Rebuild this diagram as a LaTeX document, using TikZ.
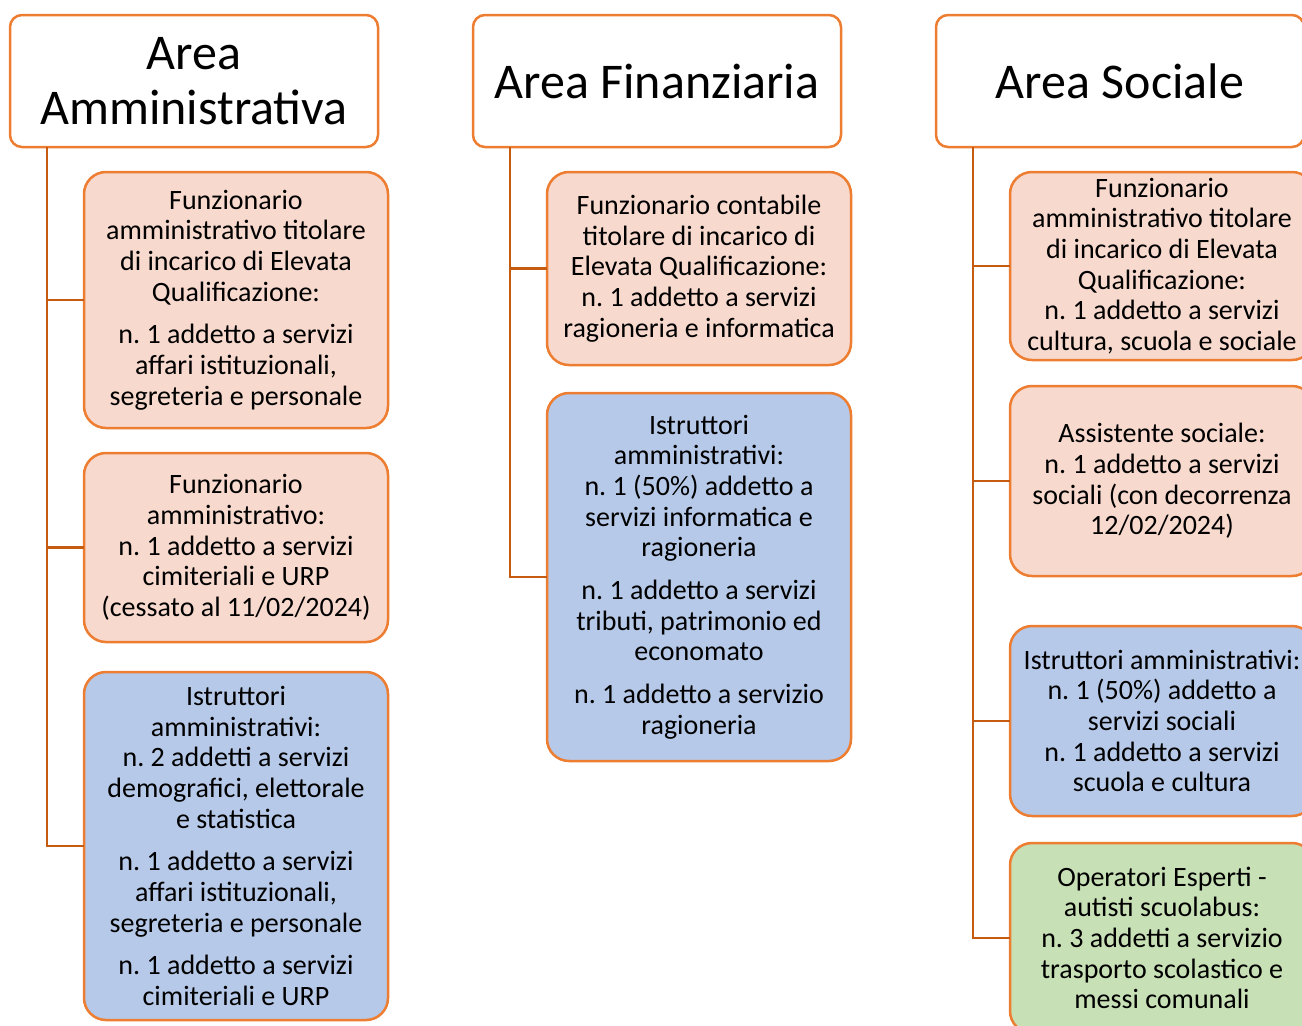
\documentclass[tikz,border=0pt]{standalone}
\usepackage{fontspec}
\setmainfont{Carlito}
\frenchspacing
\usetikzlibrary{positioning}
\definecolor{my_orange}{RGB}{237, 125, 49}
\definecolor{my_brown}{RGB}{197, 90, 17}
\definecolor{my_pink}{RGB}{248, 217, 206}
\definecolor{my_blue}{RGB}{182, 201, 232}
\definecolor{my_green}{RGB}{200, 224, 181}
\tikzset {
  area/.style = {draw=my_orange, line width=1.25pt, fill=white, rounded corners=6pt, rectangle, minimum width=184pt, minimum height=66pt, align=center, inner sep=1pt, outer sep=0pt, font=\fontsize{25}{27.5}\selectfont},
  box/.style = {draw=my_orange, line width=1.25pt, rounded corners=11pt, rectangle, minimum width=152pt, align=center, inner sep=1pt, outer sep=0pt, font=\fontsize{14}{15.35}\selectfont},
  line/.style = {draw=my_brown, line width=1.25pt}
}

\begin{document}
\begin{tikzpicture}[x=0.5pt, y=-0.5pt]
    \useasboundingbox (0,0) rectangle (1302,1025);

    \node[area] (amm) at (194,81) {Area\\Amministrativa};
    \node[area, right=47.5pt of amm] (fin) {Area Finanziaria};
    \node[area, right=47.5pt of fin] (soc) {Area Sociale};

    \node[box, fill=my_pink, minimum height=128pt, below=12.5pt of amm, xshift=21pt] (a1) {Funzionario\\amministrativo titolare\\di incarico di Elevata\\Qualificazione:\\[6pt]n. 1 addetto a servizi\\affari istituzionali,\\segreteria e personale};
    \node[box, fill=my_pink, minimum height=94.5pt, below=12.5pt of a1] (a2) {Funzionario\\amministrativo:\\n. 1 addetto a servizi\\cimiteriali e URP\\(cessato al 11/02/2024)};
    \node[box, fill=my_blue, minimum height=174pt, below=15pt of a2] (a3) {Istruttori\\amministrativi:\\n. 2 addetti a servizi\\demografici, elettorale\\e statistica\\[6pt]n. 1 addetto a servizi\\affari istituzionali,\\segreteria e personale\\[6pt]n. 1 addetto a servizi\\cimiteriali e URP};

    \node[box, fill=my_pink, minimum height=96.5pt, below=12.5pt of fin, xshift=21pt] (b1) {Funzionario contabile\\titolare di incarico di\\Elevata Qualificazione:\\n. 1 addetto a servizi\\ragioneria e informatica};
    \node[box, fill=my_blue, minimum height=184pt, below=14pt of b1] (b2) {Istruttori\\amministrativi:\\n. 1 (50\%) addetto a\\servizi informatica e\\ragioneria\\[6pt]n. 1 addetto a servizi\\tributi, patrimonio ed\\economato\\[6pt]n. 1 addetto a servizio\\ragioneria};

    \node[box, fill=my_pink, minimum height=94pt, below=12.5pt of soc, xshift=21pt] (c1) {Funzionario\\amministrativo titolare\\di incarico di Elevata\\Qualificazione:\\n. 1 addetto a servizi\\cultura, scuola e sociale};
    \node[box, fill=my_pink, minimum height=95pt, below=13pt of c1] (c2) {Assistente sociale:\\n. 1 addetto a servizi\\sociali (con decorrenza\\12/02/2024)};
    \node[box, fill=my_blue, minimum height=95pt, below=25pt of c2] (c3) {Istruttori amministrativi:\\n. 1 (50\%) addetto a\\servizi sociali\\n. 1 addetto a servizi\\scuola e cultura};
    \node[box, fill=my_green, minimum height=95pt, below=13.5pt of c3] (c4) {Operatori Esperti -\\autisti scuolabus:\\n. 3 addetti a servizio\\trasporto scolastico e\\messi comunali};

    \draw[line] ([xshift=18.5pt]amm.south west) |- (a1.west);
    \draw[line] ([xshift=18.5pt]amm.south west) |- (a2.west);
    \draw[line] ([xshift=18.5pt]amm.south west) |- (a3.west);
    \draw[line] ([xshift=18.5pt]fin.south west) |- (b1.west);
    \draw[line] ([xshift=18.5pt]fin.south west) |- (b2.west);
    \draw[line] ([xshift=18.5pt]soc.south west) |- (c1.west);
    \draw[line] ([xshift=18.5pt]soc.south west) |- (c2.west);
    \draw[line] ([xshift=18.5pt]soc.south west) |- (c3.west);
    \draw[line] ([xshift=18.5pt]soc.south west) |- (c4.west);

\end{tikzpicture}
\end{document}
